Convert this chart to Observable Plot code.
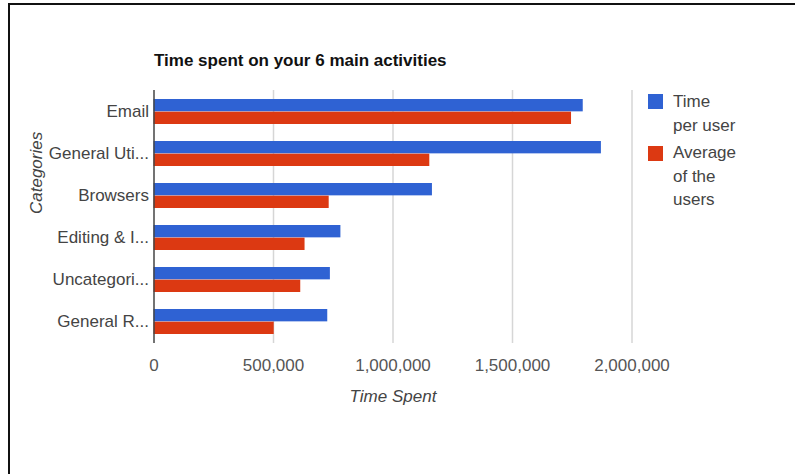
<!DOCTYPE html>
<html>
<head>
<meta charset="utf-8">
<script src="https://cdn.jsdelivr.net/npm/d3@7"></script>
<script src="https://cdn.jsdelivr.net/npm/@observablehq/plot@0.6"></script>
<style>
  html, body { margin: 0; padding: 0; background: #fff; }
  #wrap { position: relative; width: 795px; height: 474px; overflow: hidden; font-family: "Liberation Sans", Arial, sans-serif; }
  #frame { position: absolute; left: 8px; top: 3px; width: 800px; height: 480px; border-top: 2px solid #111; border-left: 2px solid #111; pointer-events: none; }
  #chart { position: absolute; left: 0; top: 0; }
  .legend { position: absolute; left: 648px; font-size: 17px; color: #444; line-height: 23.5px; }
  .sw { position: absolute; left: 0; width: 15px; height: 15px; }
  .lt { position: absolute; left: 25px; white-space: nowrap; }
</style>
</head>
<body>
<div id="wrap">
  <div id="chart"></div>
  <div id="legend"></div>
  <div id="frame"></div>
</div>
<script>
const title = "Time spent on your 6 main activities";
const categories = ["Email", "General Uti...", "Browsers", "Editing & I...", "Uncategori...", "General R..."];
const timePerUser = [1796000, 1872000, 1165000, 782000, 738000, 727000];
const averageOfUsers = [1747000, 1154000, 733000, 632000, 614000, 503000];
const xTicks = [0, 500000, 1000000, 1500000, 2000000];
const seriesNames = [["Time", "per user"], ["Average", "of the", "users"]];
const seriesColors = ["#2f62d3", "#dc3912"];
const xLabel = "Time Spent";
const yLabel = "Categories";

const rowsA = categories.map((c, i) => ({category: c, value: timePerUser[i]}));
const rowsB = categories.map((c, i) => ({category: c, value: averageOfUsers[i]}));

const chart = Plot.plot({
  width: 795,
  height: 474,
  marginLeft: 153.5,
  marginRight: 163.5,
  marginTop: 90,
  marginBottom: 131,
  style: {fontFamily: "'Liberation Sans', Arial, sans-serif", fontSize: "17px", color: "#444", background: "transparent"},
  x: {domain: [0, 2000000]},
  y: {domain: categories, paddingInner: 0.4, paddingOuter: 0.2},
  marks: [
    Plot.ruleX(xTicks.slice(1), {stroke: "#d6d6d6", strokeWidth: 1.5}),
    Plot.barX(rowsA, {x: "value", y: "category", fill: seriesColors[0], insetBottom: 12.65}),
    Plot.barX(rowsB, {x: "value", y: "category", fill: seriesColors[1], insetTop: 12.65}),
    Plot.ruleX([0], {stroke: "#444", strokeWidth: 1.5}),
    Plot.axisX({ticks: xTicks, tickFormat: d3.format(","), tickSize: 0, tickPadding: 15, label: null, fill: "#555"}),
    Plot.axisY({tickSize: 0, tickPadding: 5, label: null, fill: "#444"}),
    Plot.text([xLabel], {frameAnchor: "bottom", dy: 53, fontStyle: "italic", fill: "#444", lineAnchor: "middle"}),
    Plot.text([yLabel], {frameAnchor: "left", dx: -117, dy: -3, rotate: -90, fontStyle: "italic", fill: "#444", lineAnchor: "middle"}),
    Plot.text([title], {frameAnchor: "top-left", dy: -30, textAnchor: "start", fontWeight: "bold", fill: "#111", lineAnchor: "middle"})
  ]
});
document.getElementById("chart").appendChild(chart);

const legend = document.getElementById("legend");
const blockTops = [90, 141.3];
const swatchTops = [94, 146];
seriesNames.forEach((lines, k) => {
  const g = document.createElement("div");
  g.className = "legend";
  g.style.top = "0px";
  const sw = document.createElement("div");
  sw.className = "sw";
  sw.style.background = seriesColors[k];
  sw.style.top = swatchTops[k] + "px";
  g.appendChild(sw);
  lines.forEach((t, j) => {
    const d = document.createElement("div");
    d.className = "lt";
    d.style.top = (blockTops[k] + j * 23.5) + "px";
    d.textContent = t;
    g.appendChild(d);
  });
  legend.appendChild(g);
});
</script>
</body>
</html>
